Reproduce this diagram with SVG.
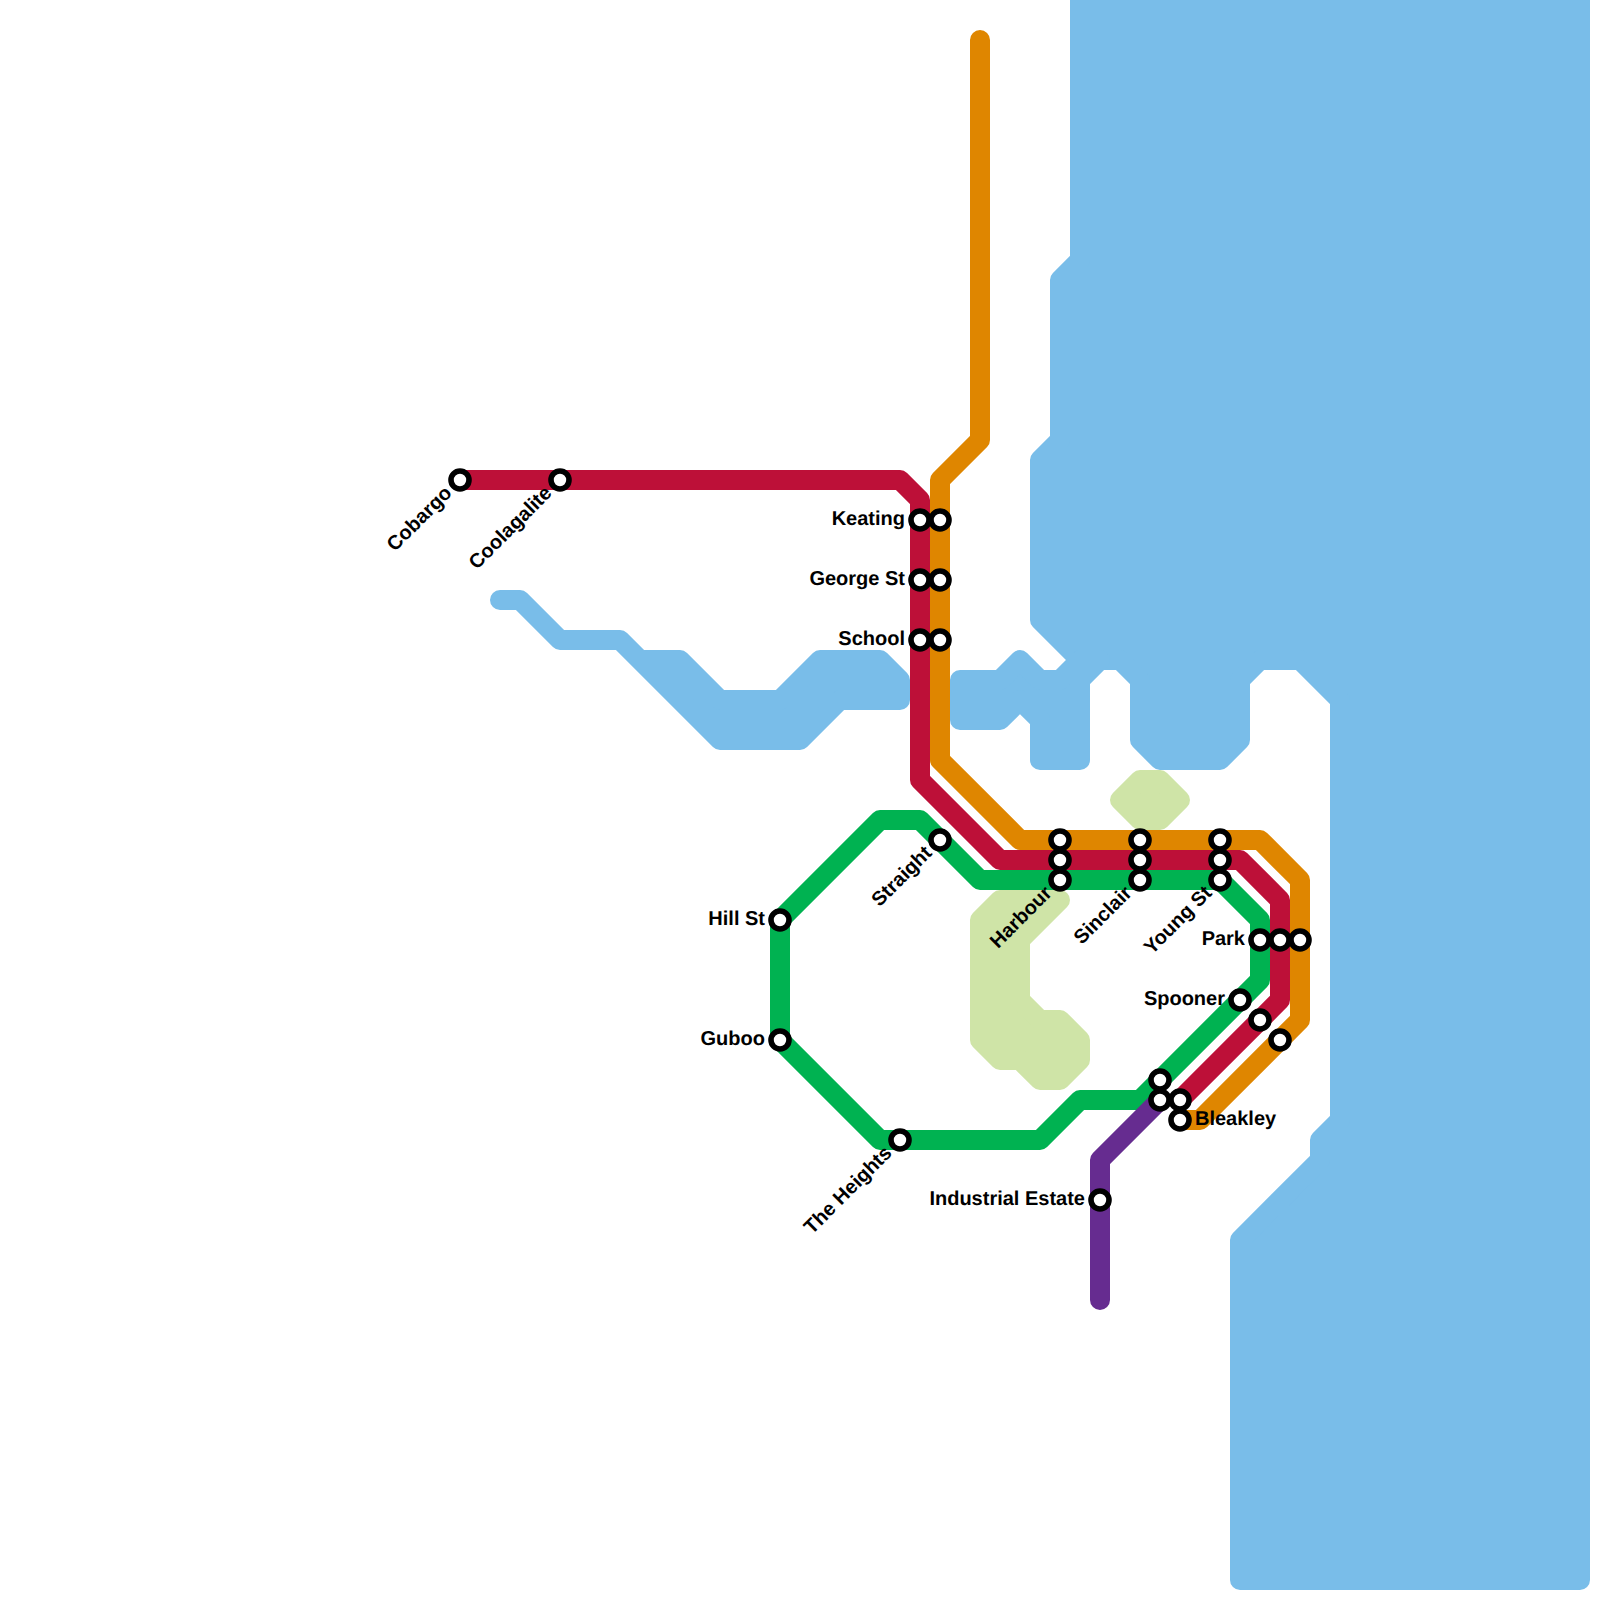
<svg xmlns="http://www.w3.org/2000/svg" width="1600" height="1600" viewBox="0 0 1600 1600">
<style>
.w{fill:#79bde9;stroke:#79bde9;stroke-width:20;stroke-linejoin:round;stroke-linecap:round}
.p{fill:#cfe4a7;stroke:#cfe4a7;stroke-width:20;stroke-linejoin:round;stroke-linecap:round}
.l{fill:none;stroke-width:20;stroke-linejoin:round;stroke-linecap:round}
.s{fill:#fff;stroke:#000;stroke-width:5.6}
text{font-family:"Liberation Sans",Arial,sans-serif;font-size:20px;font-weight:700;fill:#000;text-rendering:geometricPrecision}
.e{text-anchor:end}
</style>
<rect width="1600" height="1600" fill="#fff"/>
<g id="water">
<polygon class="w" points="1080,-20 1080,260 1060,280 1060,440 1040,460 1040,620 1080,660 1120,660 1140,680 1140,740 1160,760 1220,760 1240,740 1240,680 1260,660 1300,660 1340,700 1340,1120 1320,1140 1320,1160 1240,1240 1240,1580 1580,1580 1580,-20"/>
<polygon class="w" points="960,680 1000,680 1020,660 1040,680 1060,680 1080,660 1100,660 1080,680 1080,760 1040,760 1040,720 1020,700 1000,720 960,720"/>
<polygon class="w" points="500,600 520,600 560,640 620,640 640,660 680,660 720,700 780,700 820,660 880,660 900,680 900,700 840,700 800,740 720,740 620,640 560,640 520,600"/>
</g>
<g id="parks">
<polygon class="p" points="1120,800 1140,780 1160,780 1180,800 1160,820 1140,820"/>
<polygon class="p" points="980,920 1000,900 1060,900 1020,940 1020,1000 1040,1020 1060,1020 1080,1040 1080,1060 1060,1080 1040,1080 1020,1060 1000,1060 980,1040"/>
</g>
<g id="connectors">
<polyline class="l" stroke="#df8600" points="980,40 980,440 940,480 940,760 1020,840 1260,840 1300,880 1300,1020 1200,1120 1180,1120"/>
<polyline class="l" stroke="#bd1038" points="460,480 900,480 920,500 920,780 1000,860 1240,860 1280,900 1280,1000 1180,1100"/>
<polygon class="l" stroke="#00b251" points="780,920 880,820 920,820 980,880 1220,880 1260,920 1260,980 1140,1100 1080,1100 1040,1140 880,1140 780,1040"/>
<polyline class="l" stroke="#662c90" points="1160,1100 1100,1160 1100,1300"/>
</g>
<g id="cobargo"><circle class="s" cx="460" cy="480" r="9"/><text transform="translate(460 480) rotate(-45)" class="e" x="-15" y="5">Cobargo</text></g>
<g id="coolagalite"><circle class="s" cx="560" cy="480" r="9"/><text transform="translate(560 480) rotate(-45)" class="e" x="-15" y="5">Coolagalite</text></g>
<g id="keating"><circle class="s" cx="920" cy="520" r="9"/><circle class="s" cx="940" cy="520" r="9"/><text class="e" x="905" y="525">Keating</text></g>
<g id="george-st"><circle class="s" cx="920" cy="580" r="9"/><circle class="s" cx="940" cy="580" r="9"/><text class="e" x="905" y="585">George St</text></g>
<g id="school"><circle class="s" cx="920" cy="640" r="9"/><circle class="s" cx="940" cy="640" r="9"/><text class="e" x="905" y="645">School</text></g>
<g id="straight"><circle class="s" cx="940" cy="840" r="9"/><text transform="translate(940 840) rotate(-45)" class="e" x="-15" y="5">Straight</text></g>
<g id="harbour"><circle class="s" cx="1060" cy="840" r="9"/><circle class="s" cx="1060" cy="860" r="9"/><circle class="s" cx="1060" cy="880" r="9"/><text transform="translate(1060 880) rotate(-45)" class="e" x="-15" y="5">Harbour</text></g>
<g id="sinclair"><circle class="s" cx="1140" cy="840" r="9"/><circle class="s" cx="1140" cy="860" r="9"/><circle class="s" cx="1140" cy="880" r="9"/><text transform="translate(1140 880) rotate(-45)" class="e" x="-15" y="5">Sinclair</text></g>
<g id="young-st"><circle class="s" cx="1220" cy="840" r="9"/><circle class="s" cx="1220" cy="860" r="9"/><circle class="s" cx="1220" cy="880" r="9"/><text transform="translate(1220 880) rotate(-45)" class="e" x="-15" y="5">Young St</text></g>
<g id="park"><circle class="s" cx="1260" cy="940" r="9"/><circle class="s" cx="1280" cy="940" r="9"/><circle class="s" cx="1300" cy="940" r="9"/><text class="e" x="1245" y="945">Park</text></g>
<g id="spooner"><circle class="s" cx="1240" cy="1000" r="9"/><circle class="s" cx="1260" cy="1020" r="9"/><circle class="s" cx="1280" cy="1040" r="9"/><text class="e" x="1225" y="1005">Spooner</text></g>
<g id="bleakley"><circle class="s" cx="1160" cy="1080" r="9"/><circle class="s" cx="1160" cy="1100" r="9"/><circle class="s" cx="1180" cy="1100" r="9"/><circle class="s" cx="1180" cy="1120" r="9"/><text x="1195" y="1125">Bleakley</text></g>
<g id="hill-st"><circle class="s" cx="780" cy="920" r="9"/><text class="e" x="765" y="925">Hill St</text></g>
<g id="guboo"><circle class="s" cx="780" cy="1040" r="9"/><text class="e" x="765" y="1045">Guboo</text></g>
<g id="the-heights"><circle class="s" cx="900" cy="1140" r="9"/><text transform="translate(900 1140) rotate(-45)" class="e" x="-15" y="5">The Heights</text></g>
<g id="industrial-estate"><circle class="s" cx="1100" cy="1200" r="9"/><text class="e" x="1085" y="1205">Industrial Estate</text></g>
</svg>
